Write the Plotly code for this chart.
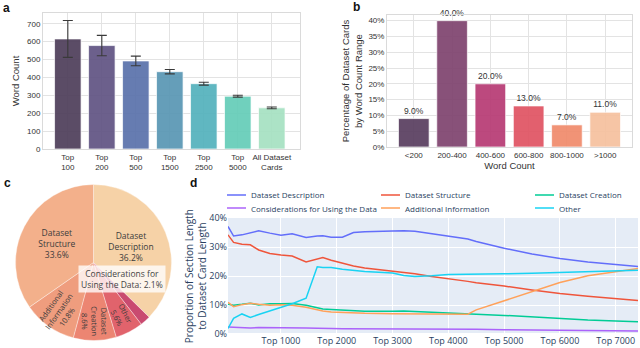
import math
import plotly.graph_objects as go

W, H = 640, 348

# ---- panel a: word count by popularity bucket
a_groups = ['Top<br>100', 'Top<br>200', 'Top<br>500', 'Top<br>1500', 'Top<br>2500',
            'Top<br>5000', 'All Dataset<br>Cards']
a_words = [615, 578, 492, 432, 365, 295, 230]
a_err = [103, 57, 27, 12, 8, 5, 5]
a_colors = ['#4f3f5b', '#615584', '#5b73ac', '#5a97b4', '#55b2bd', '#66cdb9', '#a6e1c2']

# ---- panel b: share of cards by word count range
b_ranges = ['&lt;200', '200-400', '400-600', '600-800', '800-1000', '&gt;1000']
b_share = [9.0, 40.0, 20.0, 13.0, 7.0, 11.0]
b_colors = ['#5a3f60', '#80446f', '#b73c75', '#e05464', '#f08b6c', '#f6c19f']

# ---- panel c: section share of card length
c_sections = ['Dataset Description', 'Considerations for Using the Data', 'Other',
              'Dataset Creation', 'Additional Information', 'Dataset Structure']
c_share = [36.2, 2.1, 5.6, 8.6, 10.8, 33.6]
c_colors = ['#f6d2a7', '#c94a70', '#e1636c', '#ec8572', '#ef9d7e', '#f3b08b']

# ---- panel d: section proportion vs. top-N cards
d_top_n = [50, 150, 300, 450, 600, 800, 1000, 1200, 1450, 1650, 1750, 1900, 2100, 2300,
           2500, 3000, 3200, 3400, 3700, 4000, 4350, 4500, 5000, 5500, 6000, 6500, 7000, 7400]
d_description = [37.1, 33.8, 34.2, 35.0, 35.6, 34.8, 34.1, 34.6, 33.3, 33.8, 33.9, 33.4, 33.4, 35.0,
                 35.3, 35.5, 35.6, 35.4, 34.6, 33.7, 32.8, 31.9, 29.6, 27.6, 26.1, 24.9, 23.9, 23.3]
d_structure = [34.2, 31.6, 31.0, 30.8, 29.0, 27.8, 27.3, 26.9, 24.9, 26.0, 26.4, 25.5, 24.5, 23.5,
               22.8, 21.8, 21.4, 20.8, 19.9, 19.2, 18.2, 17.7, 16.6, 15.2, 14.0, 13.1, 12.2, 11.6]
d_creation = [10.3, 10.0, 10.3, 10.7, 10.1, 10.5, 10.5, 10.6, 10.0, 9.0, 8.7, 8.5, 8.3, 8.1,
              7.9, 7.9, 8.0, 7.8, 7.5, 7.3, 7.0, 6.9, 6.5, 5.9, 5.3, 4.9, 4.6, 4.3]
d_considerations = [2.5, 2.4, 2.1, 2.2, 2.3, 2.3, 2.4, 2.3, 2.2, 2.1, 2.0, 2.0, 1.9, 1.9,
                    1.8, 1.8, 1.8, 1.8, 1.8, 1.8, 1.8, 1.7, 1.6, 1.5, 1.4, 1.3, 1.2, 1.1]
d_additional = [11.0, 9.5, 10.2, 10.7, 10.3, 10.0, 10.2, 10.0, 9.3, 8.3, 8.0, 7.7, 7.5, 7.3,
                7.2, 7.1, 7.1, 7.0, 7.0, 6.9, 6.9, 8.4, 11.6, 14.8, 17.8, 20.1, 21.6, 22.6]
d_other = [2.0, 5.5, 7.0, 5.8, 6.8, 8.0, 9.1, 10.5, 12.4, 23.2, 23.0, 23.0, 22.4, 21.9,
           21.6, 21.1, 20.2, 19.9, 20.1, 20.6, 20.6, 20.7, 20.8, 21.0, 21.3, 21.5, 21.8, 22.0]
d_ticks = [1000, 2000, 3000, 4000, 5000, 6000, 7000]


def px_x(v):
    return v / W


def px_y(v):
    return 1 - v / H


SANS = 'Liberation Sans, Arial, sans-serif'
OPEN = 'Open Sans, sans-serif'
TXT = '#333333'
D_TXT = '#2a3f5f'

fig = go.Figure()

fig.add_trace(go.Bar(
    x=a_groups, y=a_words, xaxis='x', yaxis='y',
    marker=dict(color=a_colors, opacity=0.93, line=dict(color='rgba(255,255,255,0.7)', width=1)),
    width=0.78,
    error_y=dict(type='data', array=a_err, color='#3a3a3a', thickness=1.1, width=5),
    showlegend=False,
))

fig.add_trace(go.Bar(
    x=b_ranges, y=b_share, xaxis='x2', yaxis='y2',
    marker=dict(color=b_colors, opacity=0.93, line=dict(color='rgba(255,255,255,0.7)', width=1)),
    width=0.8,
    text=['%.1f%%' % v for v in b_share], textposition='outside', cliponaxis=False,
    textfont=dict(family=SANS, size=8.5, color=TXT),
    showlegend=False,
))

# pie geometry (pixels)
cx, cy, rad = 93.5, 262.5, 78
pie_dom = dict(x=[px_x(cx - rad), px_x(cx + rad)], y=[px_y(cy + rad), px_y(cy - rad)])
big = ['Dataset Description', 'Dataset Structure']
small = ['Other', 'Dataset Creation', 'Additional Information']


def pie_label(name, v):
    return name.replace(' ', '<br>') + '<br>%.1f%%' % v


fig.add_trace(go.Pie(
    labels=c_sections, values=c_share, sort=False, direction='clockwise', rotation=0,
    domain=pie_dom,
    marker=dict(colors=c_colors, line=dict(color='rgba(255,255,255,0.6)', width=0.6)),
    text=[pie_label(n, v) if n in big else '' for n, v in zip(c_sections, c_share)],
    textinfo='text', textposition='inside', insidetextorientation='horizontal',
    textfont=dict(family=OPEN, size=8.5, color='#3c3c3c'),
    showlegend=False, hoverinfo='skip',
))

# radial labels for the narrow slices
total = sum(c_share)
cum = 0
for name, v in zip(c_sections, c_share):
    mid = 360 * (cum + v / 2) / total
    cum += v
    if name not in small:
        continue
    ang = mid - 90
    if ang > 90:
        ang -= 180
    t = math.radians(mid)
    lx = cx + 0.76 * rad * math.sin(t)
    ly = cy - 0.76 * rad * math.cos(t)
    fig.add_annotation(xref='paper', yref='paper', x=px_x(lx), y=px_y(ly),
                       xanchor='center', yanchor='middle', showarrow=False,
                       text=pie_label(name, v), textangle=ang,
                       font=dict(family=OPEN, size=7.5, color='#3c3c3c'))

d_series = [
    ('Dataset Description', d_description, '#636EFA'),
    ('Dataset Structure', d_structure, '#EF553B'),
    ('Dataset Creation', d_creation, '#00CC96'),
    ('Considerations for Using the Data', d_considerations, '#AB63FA'),
    ('Additional Information', d_additional, '#FFA15A'),
    ('Other', d_other, '#19D3F3'),
]
for name, vals, col in d_series:
    fig.add_trace(go.Scatter(
        x=d_top_n, y=vals, name=name, mode='lines', xaxis='x3', yaxis='y3',
        line=dict(color=col, width=1.5), showlegend=False,
    ))

ab_axis = dict(showgrid=True, gridcolor='#e3e3e3', gridwidth=1, showline=True,
               linecolor='#dadada', linewidth=1, mirror=True, zeroline=False, ticks='',
               tickfont=dict(family=SANS, size=8, color=TXT))

# legend of panel d, laid out as 3 columns x 2 rows
leg_cols = [227, 381, 535]
leg_rows = [195, 208]
shapes = [dict(type='rect', xref='x3 domain', yref='y3 domain', x0=0, x1=1, y0=0, y1=1,
               fillcolor='#E5ECF6', line=dict(width=0), layer='below')]
for i, (name, vals, col) in enumerate(d_series):
    lx = leg_cols[i % 3]
    ly = leg_rows[i // 3]
    shapes.append(dict(type='line', xref='paper', yref='paper',
                       x0=px_x(lx), x1=px_x(lx + 19), y0=px_y(ly), y1=px_y(ly),
                       line=dict(color=col, width=1.5)))
    fig.add_annotation(xref='paper', yref='paper', x=px_x(lx + 22), y=px_y(ly),
                       xanchor='left', yanchor='middle', showarrow=False, text=name,
                       font=dict(family=OPEN, size=8, color=D_TXT))

fig.update_layout(
    width=W, height=H,
    margin=dict(l=0, r=0, t=0, b=0, autoexpand=False),
    paper_bgcolor='white', plot_bgcolor='white',
    font=dict(family=OPEN, color=D_TXT),
    showlegend=False,
    xaxis=dict(domain=[px_x(43), px_x(300)], anchor='y', range=[-0.73, 6.83], **ab_axis),
    yaxis=dict(domain=[px_y(149), px_y(13)], anchor='x', range=[0, 760], dtick=100,
               title=dict(text='Word Count', font=dict(family=SANS, size=9.5, color=TXT), standoff=5),
               **ab_axis),
    xaxis2=dict(domain=[px_x(387), px_x(632)], anchor='y2', range=[-0.7, 5.7],
                title=dict(text='Word Count', font=dict(family=SANS, size=9.5, color=TXT), standoff=3),
                **ab_axis),
    yaxis2=dict(domain=[px_y(147), px_y(15)], anchor='x2', range=[0, 41.8], dtick=5,
                ticksuffix='%',
                title=dict(text='Percentage of Dataset Cards<br>by Word Count Range',
                           font=dict(family=SANS, size=9.5, color=TXT), standoff=4),
                **ab_axis),
    xaxis3=dict(domain=[px_x(228), px_x(638)], anchor='y3', range=[50, 7400],
                tickvals=d_ticks, ticktext=['Top %d' % t for t in d_ticks],
                showgrid=True, gridcolor='white', zeroline=False, showline=False,
                tickfont=dict(family=OPEN, size=9, color=D_TXT)),
    yaxis3=dict(domain=[px_y(334.3), px_y(218)], anchor='x3', range=[0, 40], dtick=10,
                ticksuffix='%', showgrid=True, gridcolor='white', zeroline=True,
                zerolinecolor='white', showline=False,
                tickfont=dict(family=OPEN, size=9, color=D_TXT),
                title=dict(text='Proportion of Section Length<br>to Dataset Card Length',
                           font=dict(family=OPEN, size=10, color=D_TXT), standoff=0)),
    shapes=shapes,
)

annos = [
    dict(text='<b>a</b>', x=px_x(1), y=px_y(8)),
    dict(text='<b>b</b>', x=px_x(351), y=px_y(7)),
    dict(text='<b>c</b>', x=px_x(2), y=px_y(183)),
    dict(text='<b>d</b>', x=px_x(188), y=px_y(183)),
]
for an in annos:
    fig.add_annotation(xref='paper', yref='paper', xanchor='left', yanchor='middle',
                       showarrow=False, font=dict(family=SANS, size=12, color='#111111'), **an)

fig.add_annotation(xref='paper', yref='paper', x=px_x(122), y=px_y(279),
                   xanchor='center', yanchor='middle', showarrow=False,
                   text='Considerations for<br>Using the Data: %.1f%%' % c_share[1],
                   font=dict(family=OPEN, size=8.5, color='#444444'),
                   bgcolor='rgba(255,255,255,0.78)', borderpad=2)

# the page body has a default 8px margin; drop it so the figure sits at the corner
fig.write_html('out.html', config={'displayModeBar': False},
               post_script="document.body.style.margin='0';")
